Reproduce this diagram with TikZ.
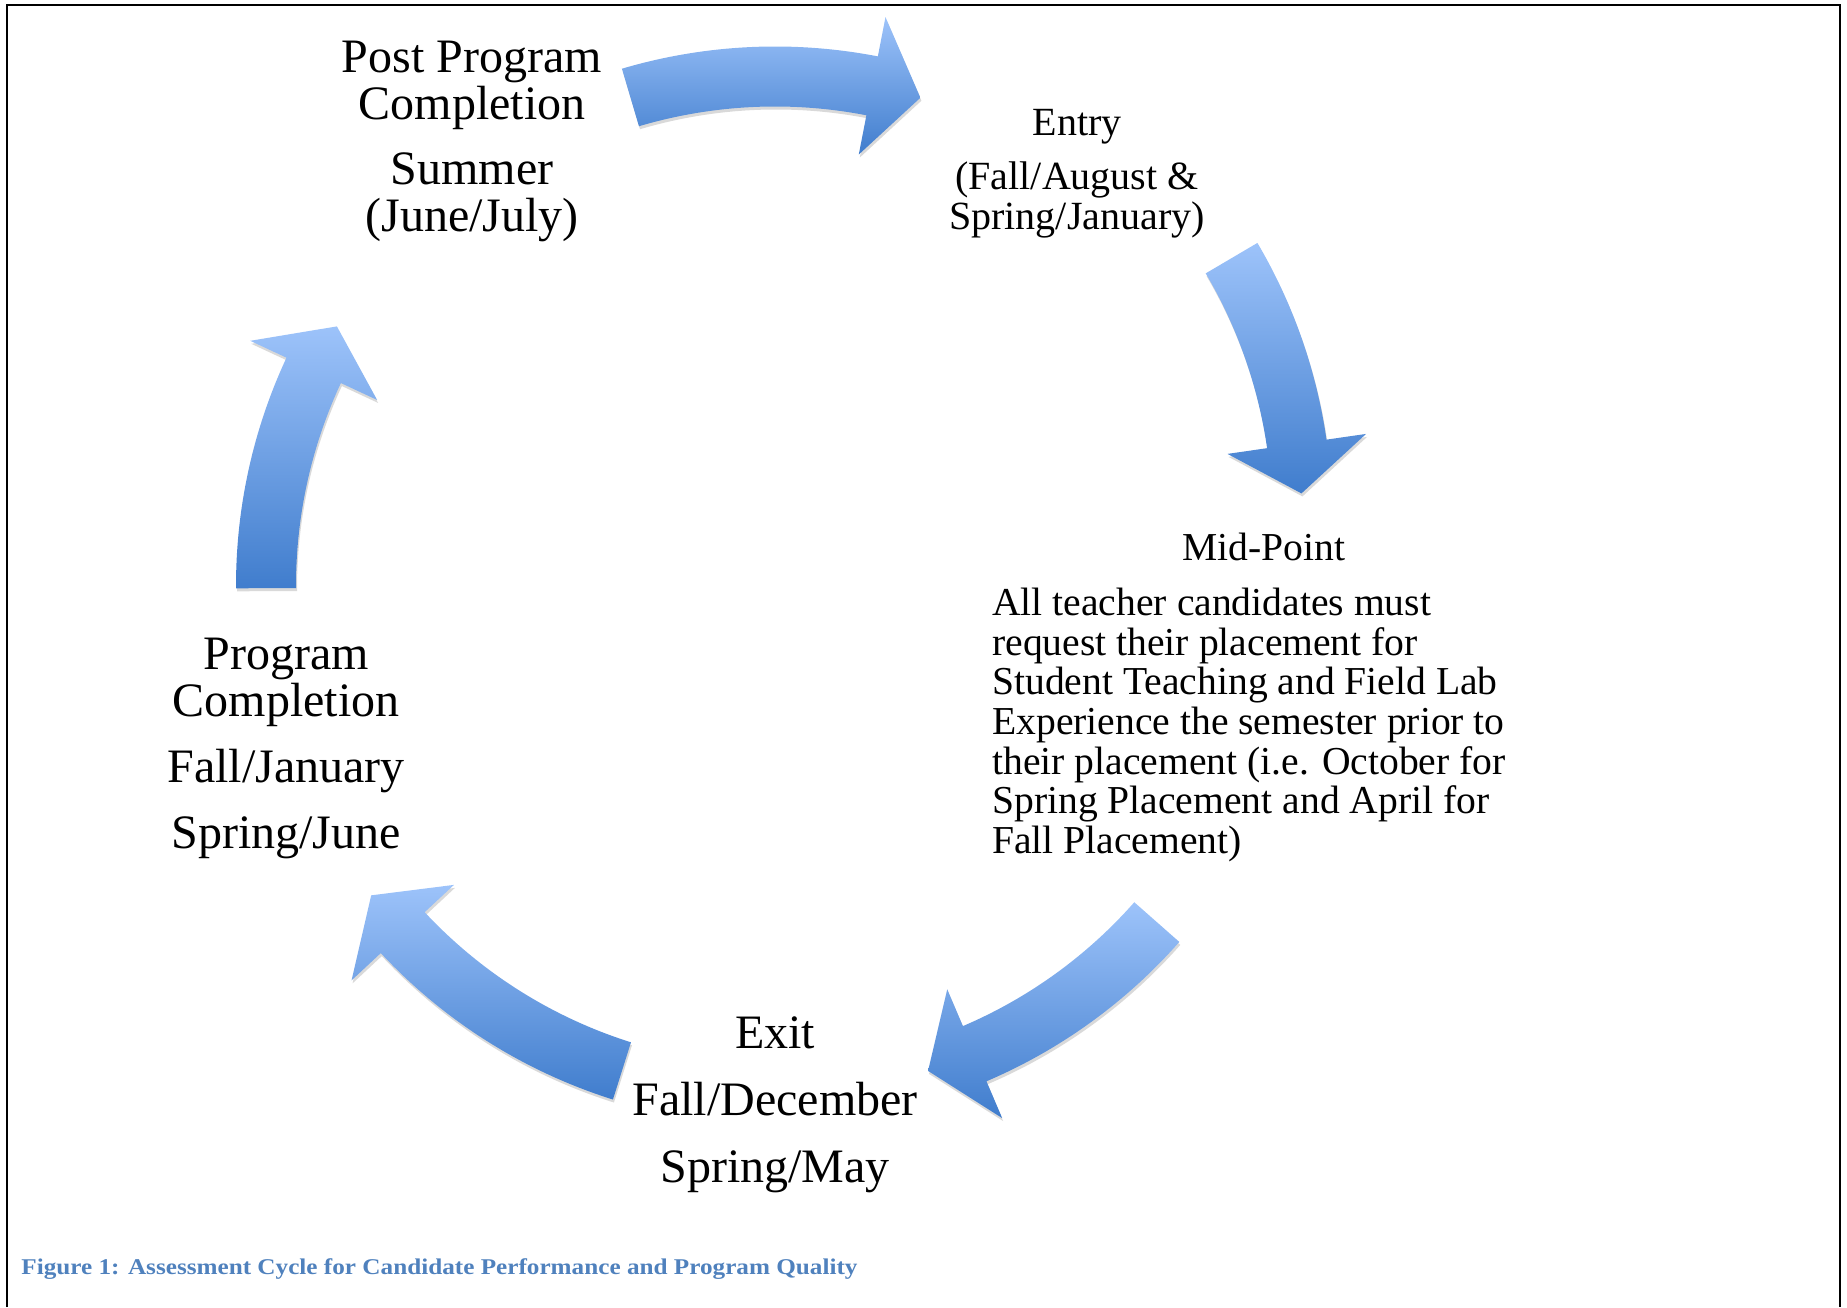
\documentclass[tikz,border=0pt]{standalone}
\usepackage{fontspec}
\setmainfont{Liberation Serif}
\newfontfamily\capfont[FakeStretch=1.12]{Liberation Serif}
\usetikzlibrary{positioning}
\definecolor{arrowtop}{RGB}{157,195,250}
\definecolor{arrowbot}{RGB}{64,125,205}
\definecolor{capblue}{RGB}{79,129,189}
\tikzset{stagebig/.style={align=center,inner sep=0pt,font=\fontsize{24}{23.5}\selectfont},
	 stagemid/.style={align=center,inner sep=0pt,font=\fontsize{20}{20}\selectfont},
	 stagesmall/.style={inner sep=0pt,font=\fontsize{19.8}{19.8}\selectfont},
	 cycarrow/.style={top color=arrowtop,bottom color=arrowbot,draw=none},
	 cycshadow/.style={fill=black,opacity=0.15}
	 }
% curved block arrow: centre x, centre y, tail angle, head base angle, tip angle
\newcommand\arrowpath[3]{(#1:539) arc[start angle=#1,end angle=#2,radius=539]
  -- (#2:579) -- (#3:509) -- (#2:439) -- (#2:479)
  arc[start angle=#2,end angle=#1,radius=479] -- cycle}
\newcommand\cyclearrow[5]{%
  \fill[cycshadow,shift={(#1+1,#2-3)}] \arrowpath{#3}{#4}{#5};
  \shade[cycarrow,shift={(#1,#2)}] \arrowpath{#3}{#4}{#5};}

\begin{document}
\begin{tikzpicture}[x=0.5pt,y=0.5pt] % assessment cycle
        \useasboundingbox (0,0) rectangle (1847,1307);
        \draw[line width=1pt] (7,0) -- (7,1302) -- (1840,1302) -- (1840,0);
        % arrows
        \cyclearrow{775}{721.5}{106.5}{79}{73.4}
        \cyclearrow{793}{790.5}{30.5}{8.2}{2.6}
        \cyclearrow{775}{721.5}{-41.4}{-66.9}{-72.5}
        \cyclearrow{775}{721.5}{-107.5}{-137}{-142.5}
        \cyclearrow{775}{721.5}{180.3}{155}{149.4}
        % stages
        \node[stagebig] (post) at (472,1165.5) {Post Program\\Completion\\[9pt]Summer\\(June/July)};
        \node[stagemid] (entry) at (1077,1133.5) {Entry\\[7pt](Fall/August \&\\Spring/January)};
        \node[stagesmall] (midtitle) at (1264,760.4) {Mid-Point};
        \node[stagesmall,align=left] (midtext) at (1249,582) {All teacher candidates must\\request their placement for\\Student Teaching and Field Lab\\Experience the semester prior to\\their placement (i.e. October for\\Spring Placement and April for\\Fall Placement)};
        \node[stagebig] (exit) at (775,202) {Exit\\[10pt]Fall/December\\[10pt]Spring/May};
        \node[stagebig] (prog) at (286,558.7) {Program\\Completion\\[9.5pt]Fall/January\\[9.5pt]Spring/June};
        \node[anchor=west,inner sep=0pt,text=capblue,font=\capfont\bfseries\fontsize{11.25}{13}\selectfont] (caption) at (21,38.3) {Figure 1: Assessment Cycle for Candidate Performance and Program Quality};
     \end{tikzpicture}
\end{document}
